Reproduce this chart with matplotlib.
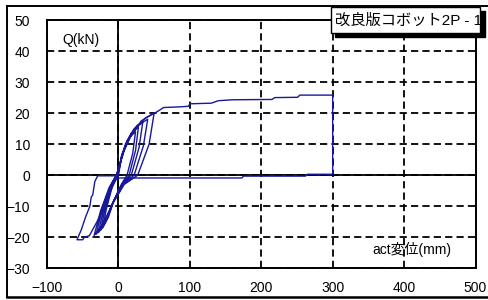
import matplotlib
matplotlib.use('Agg')
import matplotlib.pyplot as plt
from matplotlib.patches import Rectangle
from matplotlib.lines import Line2D

FONTS = ['Liberation Sans', 'Noto Sans CJK JP', 'DejaVu Sans']
plt.rcParams['font.family'] = FONTS

# act displacement (mm) / load Q (kN)
# cyclic part: five loops, pinched near the origin
cyc_disp = [0, 4, 10, 17, 24, 20, 12, 4, -6, -14, -22, -17, -9, -2,
            0, 4, 10, 18, 28, 24, 15, 5, -7, -16, -25, -19, -10, -2,
            0, 5, 12, 22, 34, 29, 18, 6, -8, -18, -28, -21, -11, -3,
            0, 6, 14, 26, 41, 35, 22, 7, -8, -20, -31, -23, -12, -3,
            0, 7, 17, 32, 50, 43, 27, 8, -9, -22, -34, -25, -13, -3]
cyc_load = [0, 5, 9.5, 12.5, 14, 7, 0, -3, -8, -13.5, -17, -11, -4, 0,
            1, 6, 10, 13.5, 15.5, 8, 0, -3, -8.5, -14, -17.8, -11, -4, 0,
            1, 6.5, 11, 15, 17, 9, 0, -3, -9, -15, -18.5, -11, -4, 0,
            1.5, 7, 11.5, 16, 18, 9.5, 0, -3, -9, -15.5, -19, -11, -4, 0,
            2, 7.5, 12.5, 17.5, 20, 10, 0, -3, -9.5, -16, -19.4, -11.5, -4, 0]

# big push to +300 mm, unload, then one big negative cycle
push_disp = [-3, 0, 8, 20, 38, 53, 58, 63, 85, 98, 100, 130, 140, 160, 215, 219,
             251, 254, 300, 300, 265, 262, 175, 173, 0, -3, -29, -33, -36, -38,
             -40, -46, -52, -58, -50, -47.7, -40.7, -30, -19.6, -8, 0]
push_load = [0, 2, 8, 14, 18.5, 20.3, 21, 21.8, 22, 22.2, 23, 23.2, 24, 24.3, 24.4, 25,
             25.1, 25.8, 25.8, 0.3, 0.3, -0.3, -0.3, -0.9, -0.9, -0.2, -0.2, -2, -6.4,
             -7, -10, -13.5, -17.6, -20.8, -20.8, -20, -19.5, -15, -10, -3.5, 0]

x_ticks = [-100, 0, 100, 200, 300, 400, 500]
y_ticks = [-30, -20, -10, 0, 10, 20, 30, 40, 50]

W, H = 488, 300
fig = plt.figure(figsize=(W / 100, H / 100), dpi=100)
ax = fig.add_axes([47 / W, (H - 268.3) / H, (475.5 - 47) / W, (268.3 - 20) / H])

line_col = '#18189a'
ax.plot(cyc_disp, cyc_load, color=line_col, lw=1.0, zorder=3)
ax.plot(push_disp, push_load, color=line_col, lw=1.0, zorder=3)

ax.set_xlim(-100, 500)
ax.set_ylim(-30, 50)
ax.set_xticks(x_ticks)
ax.set_yticks(y_ticks)
ax.tick_params(length=0, labelsize=10, pad=12)
ax.tick_params(axis='x', pad=9)
ax.grid(True, color='black', lw=1.3, ls=(0, (4, 2.3)))
ax.axhline(0, color='black', lw=1.3, zorder=2)
ax.axvline(0, color='black', lw=1.3, zorder=2)
for sp in ax.spines.values():
    sp.set_linewidth(1.4)

ax.text(-79, 43.5, 'Q(kN)', fontsize=10, va='center', ha='left')
ax.text(466, -24, 'act変位(mm)', fontsize=10, va='center', ha='right', family=FONTS)

# overlay in pixel coords: outer frame and title box
ov = fig.add_axes([0, 0, 1, 1], zorder=10)
ov.set_xlim(0, W)
ov.set_ylim(H, 0)
ov.axis('off')
ov.patch.set_alpha(0)
ov.add_line(Line2D([6.7, 6.7], [6, 297], color='black', lw=1.4))
ov.add_line(Line2D([6.7, W + 2], [6, 6], color='black', lw=1.4))
ov.add_line(Line2D([6.7, W + 2], [297, 297], color='black', lw=1.8))
ov.add_patch(Rectangle((334.5, 11), 150, 26, facecolor='black', edgecolor='black'))
ov.add_patch(Rectangle((331, 7.3), 149, 26, facecolor='white', edgecolor='black', lw=1.0))
ov.text(335, 20.5, '改良版コボット2P - 1', fontsize=11, va='center', ha='left', family=FONTS)

fig.savefig('out.png', dpi=100)
